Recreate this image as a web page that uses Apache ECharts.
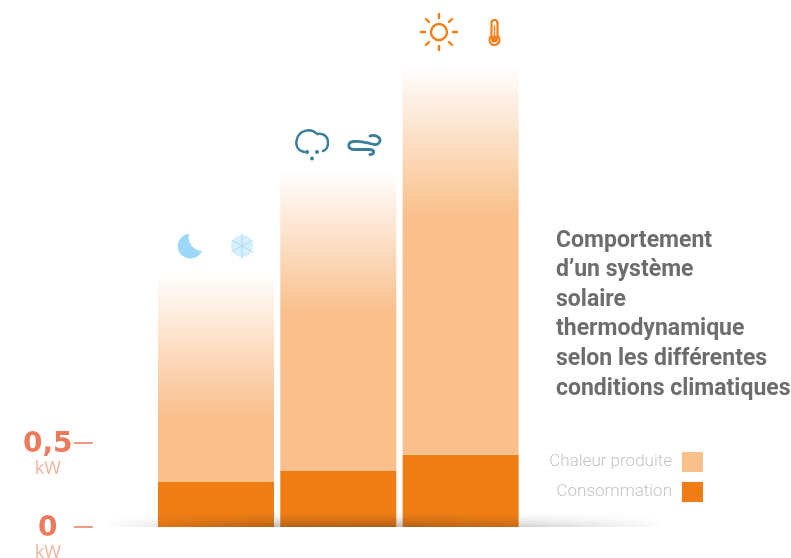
<!DOCTYPE html>
<html><head><meta charset="utf-8">
<style>html,body{margin:0;padding:0;background:#fff}#c{width:791px;height:558px}</style>
<script src="https://cdn.jsdelivr.net/npm/echarts@6/dist/echarts.min.js"></script>
</head><body><div id="c"></div>
<script>
const categories = ['Nuit froide', 'Pluie et vent', 'Soleil et chaleur'];
const consommation = [0.268, 0.333, 0.43];
const chaleurProduite = [1.25, 1.79, 2.32];
const axisTicks = [0, 0.5];
const tickLabels = {0: '0', 0.5: '0,5'};
const titleLines = ['Comportement', 'd’un système', 'solaire', 'thermodynamique', 'selon les différentes', 'conditions climatiques'];

const fades = [0.68, 0.47, 0.385];
const PEACH = '#f9c08c', ORANGE = '#ef7d14', CORAL = '#ec7a5c', BLUE = '#3b7f99', SKY = '#9dd8f8', SUN = '#f57f17';

function fadeColor(f) {
  return {type: 'linear', x: 0, y: 0, x2: 0, y2: 1, colorStops: [
    {offset: 0, color: 'rgba(249,192,140,0)'},
    {offset: f, color: PEACH}, {offset: 1, color: PEACH}]};
}
function hShadow(a) {
  const c = k => 'rgba(40,30,20,' + a * k + ')';
  return {type: 'linear', x: 0, y: 0, x2: 1, y2: 0, colorStops: [
    {offset: 0, color: c(0)},
    {offset: 0.1, color: c(0.25)},
    {offset: 0.3, color: c(0.9)},
    {offset: 0.5, color: c(1)},
    {offset: 0.75, color: c(0.55)},
    {offset: 1, color: c(0)}]};
}
function line(x1, y1, x2, y2, color, w) {
  return {type: 'line', z: 20, silent: true, shape: {x1, y1, x2, y2}, style: {stroke: color, lineWidth: w, lineCap: 'round'}};
}
function pathIcon(name, d, style) {
  echarts.graphic.registerShape(name, echarts.graphic.extendPath(d, {}));
  return {type: name, z: 20, silent: true, style};
}
const graphicEls = [];
// ground shadow
[[513, 14, 0.02], [515, 12, 0.03], [517, 10, 0.04], [519, 8, 0.05], [521, 6, 0.06], [523, 4, 0.07], [525, 2, 0.08]].forEach(r => {
  graphicEls.push({type: 'rect', z: 15, silent: true, shape: {x: 100, y: r[0], width: 570, height: r[1]},
    style: {fill: hShadow(r[2])}});
});
// sun
graphicEls.push({type: 'circle', z: 20, silent: true, shape: {cx: 439, cy: 32, r: 8}, style: {fill: 'none', stroke: SUN, lineWidth: 2.4}});
[[0, -14, 0, -18], [0, 14, 0, 18], [-14, 0, -18, 0], [14, 0, 18, 0], [-10, -10, -13, -13], [10, -10, 13, -13], [-10, 10, -13, 13], [10, 10, 13, 13]]
  .forEach(s => graphicEls.push(line(439 + s[0], 32 + s[1], 439 + s[2], 32 + s[3], SUN, 2.4)));
// thermometer
graphicEls.push(pathIcon('thermo', 'M491.5 36 V23 a3 3 0 0 1 6 0 V36 a5 5 0 1 1 -6 0 Z', {fill: 'none', stroke: SUN, lineWidth: 2.2}));
graphicEls.push({type: 'circle', z: 20, silent: true, shape: {cx: 494.5, cy: 39, r: 3.5}, style: {fill: SUN}});
graphicEls.push(line(494.5, 26, 494.5, 38, SUN, 1.4));
// cloud
graphicEls.push(pathIcon('cloud', 'M304 152 C297 150 295 145 297 139 C299 131 310 127 317 134 C322 133 328 135 328 143 C328 148 326 150 323 151', {fill: 'none', stroke: BLUE, lineWidth: 2.4, lineCap: 'round'}));
[[307, 152], [317, 152], [312, 158.5]].forEach(p => graphicEls.push({type: 'circle', z: 20, silent: true, shape: {cx: p[0], cy: p[1], r: 2}, style: {fill: BLUE}}));
// wind
graphicEls.push(pathIcon('wind', 'M370 136 C374 134 381 137 380 141 C379 145 375 145 372 144 C365 142 360 141 354 141.5 C347 142 347 149 354 149.5 L370 149.5 C375 150 375 154 370 154.5', {fill: 'none', stroke: BLUE, lineWidth: 2.8, lineCap: 'round'}));
// moon
graphicEls.push(pathIcon('moon', 'M189 233.7 A12.5 12.5 0 1 0 201.8 251 A14 14 0 0 1 189 233.7 Z', {fill: SKY}));
// snowflake
graphicEls.push({type: 'circle', z: 20, silent: true, shape: {cx: 242, cy: 246, r: 11}, style: {fill: '#d6effd'}});
[0, 60, 120].forEach(d => {
  const a = d * Math.PI / 180, dx = Math.sin(a) * 12, dy = Math.cos(a) * 12;
  graphicEls.push(line(242 - dx, 246 - dy, 242 + dx, 246 + dy, '#a9dcf9', 1));
});

const chart = echarts.init(document.getElementById('c'), null, {renderer: 'canvas'});
chart.setOption({
  animation: false,
  backgroundColor: '#fff',
  title: {
    text: titleLines.join('\n'), left: 556, top: 226, padding: 0,
    textStyle: {fontFamily: 'Roboto', fontWeight: 'bold', fontSize: 23, lineHeight: 29.6, color: '#6d6d6d'}
  },
  legend: {
    data: ['Chaleur produite', 'Consommation'],
    orient: 'vertical', align: 'right', right: 88, top: 452, icon: 'rect',
    itemWidth: 21, itemHeight: 20, itemGap: 10, padding: 0, selectedMode: false,
    textStyle: {fontFamily: 'Roboto', fontWeight: 300, fontSize: 17, color: '#c4c4c4', padding: [0, 5, 0, 0]}
  },
  grid: {left: 154.8, width: 367, top: 23, height: 504, outerBoundsMode: 'none'},
  xAxis: {type: 'category', data: categories, axisLine: {show: false}, axisTick: {show: false}, axisLabel: {show: false}},
  yAxis: {
    type: 'value', min: 0, max: 3, interval: 0.5, offset: 62,
    splitLine: {show: false}, axisLine: {show: false},
    axisTick: {show: true, customValues: axisTicks, length: 19, lineStyle: {color: CORAL, width: 1.5}},
    axisLabel: {
      customValues: axisTicks, margin: 45, align: 'center', verticalAlign: 'middle', padding: [22, 0, 0, 0],
      formatter: v => '{v|' + tickLabels[v] + '}\n{u|kW}',
      rich: {
        v: {fontFamily: 'DejaVu Sans', fontWeight: 'bold', fontSize: 28, lineHeight: 30, color: CORAL, align: 'center'},
        u: {fontFamily: 'Open Sans', fontSize: 18, lineHeight: 18, color: '#f2b3a0', align: 'center'}
      }
    }
  },
  series: [
    {name: 'Consommation', type: 'bar', stack: 'p', barWidth: 116, data: consommation, itemStyle: {color: ORANGE}},
    {name: 'Chaleur produite', type: 'bar', stack: 'p', barWidth: 116, itemStyle: {color: PEACH},
     data: chaleurProduite.map((v, i) => ({value: v, itemStyle: {color: fadeColor(fades[i])}}))}
  ],
  graphic: {elements: graphicEls}
});
</script></body></html>
